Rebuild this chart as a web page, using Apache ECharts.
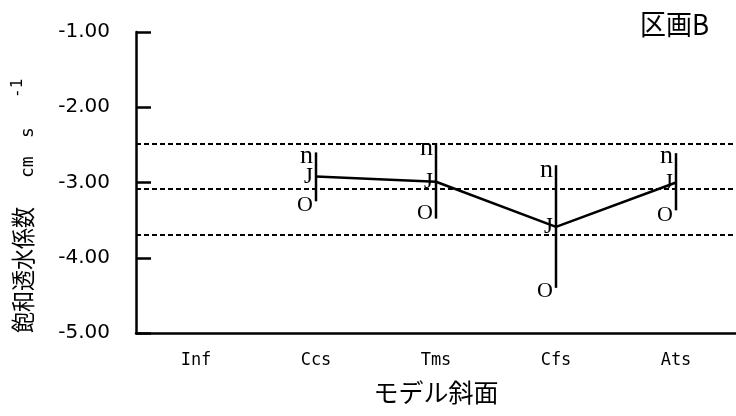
<!DOCTYPE html>
<html>
<head>
<meta charset="utf-8">
<script src="https://cdn.jsdelivr.net/npm/echarts@6/dist/echarts.min.js"></script>
<style>
html,body{margin:0;padding:0;background:#fff;}
#chart{width:736px;height:416px;}
</style>
</head>
<body>
<div id="chart"></div>
<script>
const categories = ['Inf', 'Ccs', 'Tms', 'Cfs', 'Ats'];
const meanValues = [null, -2.92, -2.99, -3.59, -3.00];
const barTop = [null, -2.60, -2.48, -2.77, -2.61];
const barBottom = [null, -3.25, -3.48, -4.40, -3.37];
const upperMark = [null, -2.65, -2.54, -2.83, -2.65];
const lowerMark = [null, -3.30, -3.41, -4.45, -3.43];
const refLines = [-2.49, -3.08, -3.69];
const yMin = -5, yMax = -1, yStep = 1;
const markerTexts = ['n', 'J', 'O'];
const panelTitle = '区画B';
const xTitle = 'モデル斜面';
const yTitleMain = '飽和透水係数';
const yTitleUnit1 = 'cm';
const yTitleUnit2 = 's';
const yTitleSup = '-1';

const errData = categories.map((c, i) => meanValues[i] == null ? null :
  [i, barTop[i], barBottom[i], upperMark[i], meanValues[i], lowerMark[i]]).filter(Boolean);

const chart = echarts.init(document.getElementById('chart'));
const serif = '"Liberation Serif", "Times New Roman", serif';
const cjk = '"Noto Sans CJK JP"';
const mono = '"DejaVu Sans Mono"';

chart.setOption({
  animation: false,
  backgroundColor: '#fff',
  grid: { left: 136, top: 32, width: 602, height: 301 },
  xAxis: {
    type: 'category',
    data: categories,
    boundaryGap: true,
    name: xTitle,
    nameLocation: 'middle',
    nameGap: 47,
    nameTextStyle: { color: '#000', fontSize: 25, fontFamily: cjk },
    axisLine: { lineStyle: { color: '#000', width: 2.5 } },
    axisTick: { inside: true, length: 16, alignWithLabel: true, lineStyle: { color: '#000', width: 2.5 } },
    axisLabel: { color: '#000', fontSize: 17, fontFamily: mono, margin: 19 },
    splitLine: { show: false }
  },
  yAxis: {
    type: 'value',
    min: yMin, max: yMax, interval: yStep,
    axisLine: { show: true, lineStyle: { color: '#000', width: 2.5 } },
    axisTick: { show: true, inside: true, length: 15, lineStyle: { color: '#000', width: 2.5 } },
    axisLabel: { color: '#000', fontSize: 20, fontFamily: '"DejaVu Sans"', margin: 26,
      padding: [6, 0, 0, 0],
      formatter: v => v.toFixed(2) },
    splitLine: { show: false }
  },
  series: [
    {
      type: 'line',
      data: meanValues,
      symbol: 'none',
      lineStyle: { color: '#000', width: 2.5 },
      z: 3,
      markLine: {
        silent: true,
        symbol: 'none',
        label: { show: false },
        lineStyle: { color: '#000', width: 2, type: [5, 3] },
        data: refLines.map(v => ({ yAxis: v }))
      }
    },
    {
      type: 'custom',
      data: errData,
      z: 4,
      renderItem: function (params, api) {
        const ci = api.value(0);
        const top = api.coord([ci, api.value(1)]);
        const bot = api.coord([ci, api.value(2)]);
        const up = api.coord([ci, api.value(3)]);
        const mid = api.coord([ci, api.value(4)]);
        const lo = api.coord([ci, api.value(5)]);
        const tx = top[0] - 3;
        return {
          type: 'group',
          children: [
            { type: 'line', shape: { x1: top[0], y1: top[1], x2: bot[0], y2: bot[1] },
              style: { stroke: '#000', lineWidth: 2.5 } },
            { type: 'text', x: tx, y: up[1],
              style: { text: markerTexts[0], fill: '#000', fontSize: 26, fontFamily: serif, align: 'right', verticalAlign: 'middle' } },
            { type: 'text', x: tx, y: mid[1],
              style: { text: markerTexts[1], fill: '#000', fontSize: 23, fontFamily: serif, align: 'right', verticalAlign: 'middle' } },
            { type: 'text', x: tx, y: lo[1],
              style: { text: markerTexts[2], fill: '#000', fontSize: 22, fontFamily: serif, align: 'right', verticalAlign: 'middle' } }
          ]
        };
      }
    }
  ],
  graphic: [
    {
      type: 'text',
      x: 709, y: 38,
      scaleY: 1.1,
      style: { text: panelTitle, fill: '#000', fontSize: 26, fontFamily: cjk, align: 'right', verticalAlign: 'bottom' }
    },
    {
      type: 'group',
      x: 35, y: 333,
      rotation: Math.PI / 2,
      children: [
        { type: 'text', x: 0, y: 0, scaleY: 1.15,
          style: { text: yTitleMain, fill: '#000', fontSize: 21, fontFamily: cjk, align: 'left', verticalAlign: 'bottom' } },
        { type: 'text', x: 155, y: 2,
          style: { text: yTitleUnit1, fill: '#000', fontSize: 18, fontFamily: mono, align: 'left', verticalAlign: 'bottom' } },
        { type: 'text', x: 195, y: 2,
          style: { text: yTitleUnit2, fill: '#000', fontSize: 18, fontFamily: mono, align: 'left', verticalAlign: 'bottom' } },
        { type: 'text', x: 235, y: -9,
          style: { text: yTitleSup, fill: '#000', fontSize: 16, fontFamily: mono, align: 'left', verticalAlign: 'bottom' } }
      ]
    }
  ]
});
</script>
</body>
</html>
